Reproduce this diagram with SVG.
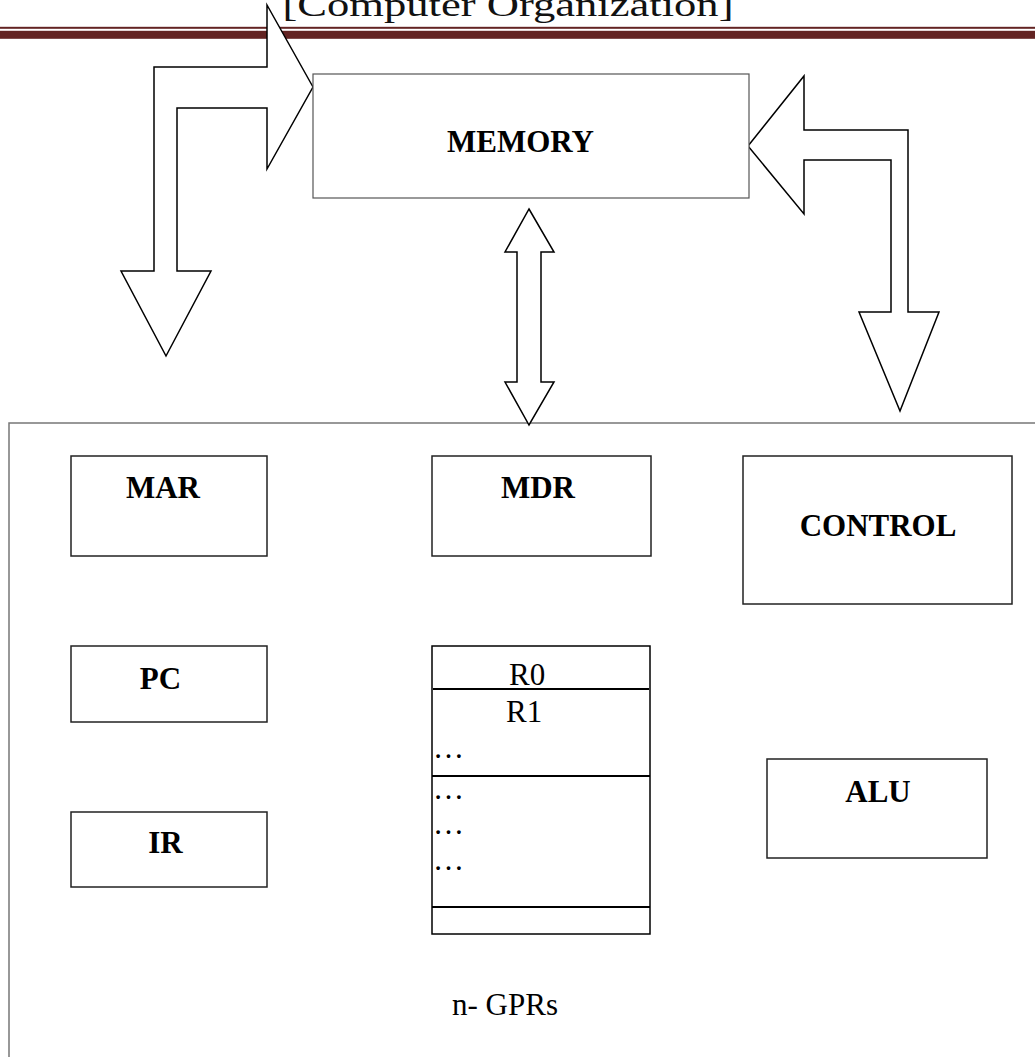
<svg xmlns="http://www.w3.org/2000/svg" width="1035" height="1057" viewBox="0 0 1035 1057">
<style>
.box{fill:#fff;stroke:#222;stroke-width:1.5}
.arrow{fill:#fff;stroke:#000;stroke-width:1.5;stroke-linejoin:miter}
.lbl{font-family:"Liberation Serif","Times New Roman",serif;font-size:31px;font-weight:bold;fill:#000;text-anchor:middle}
.reg{font-family:"Liberation Serif","Times New Roman",serif;font-size:31px;fill:#000}
.sep{stroke:#000;stroke-width:2}
</style>
<rect width="1035" height="1057" fill="#fff"/>
<g id="header">
<text x="508" y="16" font-family="Liberation Serif, serif" font-size="33" text-anchor="middle" textLength="451" lengthAdjust="spacingAndGlyphs" fill="#111">[Computer Organization]</text>
<rect x="0" y="26.8" width="1035" height="2" fill="#632423"/>
<rect x="0" y="30.8" width="1035" height="8" fill="#632423"/>
</g>
<g id="cpu">
<path d="M9 1060 L9 423 L1040 423" fill="none" stroke="#777" stroke-width="1.5"/>
</g>
<g id="connectors">
<path class="arrow" d="M313 87 L267 5 L267 67 L154 67 L154 271 L121 271 L166 356 L211 271 L177 271 L177 108 L267 108 L267 169 Z"/>
<path class="arrow" d="M748 146 L804 76 L804 130 L908 130 L908 312 L939 312 L900 411 L859 312 L891 312 L891 160 L804 160 L804 214 Z"/>
<path class="arrow" d="M529 209 L554 252 L541 252 L541 382 L554 382 L529 425 L505 382 L517 382 L517 252 L505 252 Z"/>
</g>
<g id="memory">
<rect x="313" y="74" width="436" height="124" fill="#fff" stroke="#555" stroke-width="1.2"/>
<text class="lbl" x="520.5" y="152">MEMORY</text>
</g>
<g id="mar">
<rect class="box" x="71" y="456" width="196" height="100"/>
<text class="lbl" x="163" y="498">MAR</text>
</g>
<g id="mdr">
<rect class="box" x="432" y="456" width="219" height="100"/>
<text class="lbl" x="538" y="498">MDR</text>
</g>
<g id="control">
<rect class="box" x="743" y="456" width="269" height="148"/>
<text class="lbl" x="878" y="536">CONTROL</text>
</g>
<g id="pc">
<rect class="box" x="71" y="646" width="196" height="76"/>
<text class="lbl" x="160.5" y="689">PC</text>
</g>
<g id="ir">
<rect class="box" x="71" y="812" width="196" height="75"/>
<text class="lbl" x="165.5" y="853">IR</text>
</g>
<g id="alu">
<rect class="box" x="767" y="759" width="220" height="99"/>
<text class="lbl" x="878" y="802">ALU</text>
</g>
<g id="registers">
<rect x="432" y="646" width="218" height="288" fill="#fff" stroke="#000" stroke-width="1.5"/>
<line class="sep" x1="433" y1="689" x2="649" y2="689"/>
<line class="sep" x1="432" y1="776" x2="650" y2="776"/>
<line class="sep" x1="432" y1="907" x2="650" y2="907"/>
<text class="reg" x="509" y="685">R0</text>
<text class="reg" x="506" y="722">R1</text>
<text class="reg" x="433" y="758">…</text>
<text class="reg" x="433" y="799">…</text>
<text class="reg" x="433" y="834">…</text>
<text class="reg" x="433" y="870">…</text>
<text class="reg" x="452" y="1015">n- GPRs</text>
</g>
</svg>
